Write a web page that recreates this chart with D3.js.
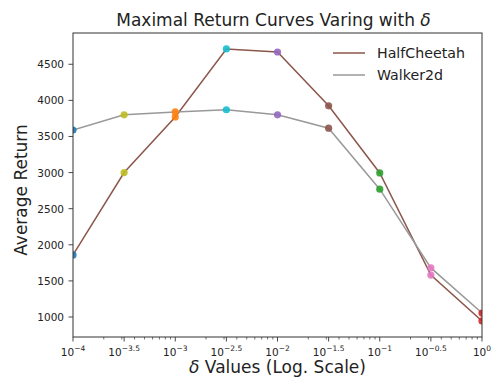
<!DOCTYPE html>
<html><head><meta charset="utf-8">
<script src="https://cdn.jsdelivr.net/npm/d3@7"></script>
<style>body{margin:0;background:#fff}svg{display:block;font-family:"DejaVu Sans",sans-serif}</style>
</head><body>
<svg id="c" width="493" height="379"></svg>
<script>
const exponents = [-4, -3.5, -3, -2.5, -2, -1.5, -1, -0.5, 0];
const tickLabels = ["−4", "−3.5", "−3", "−2.5", "−2", "−1.5", "−1", "−0.5", "0"];
const halfCheetah = [1860, 3000, 3770, 4712, 4670, 3925, 2995, 1580, 945];
const walker2d = [3590, 3800, 3840, 3870, 3800, 3615, 2770, 1680, 1055];
const yTicks = [1000, 1500, 2000, 2500, 3000, 3500, 4000, 4500];
const pointColors = ["#1f77b4", "#bcbd22", "#ff7f0e", "#17becf", "#9467bd", "#8c564b", "#2ca02c", "#e377c2", "#d62728"];
const seriesNames = ["HalfCheetah", "Walker2d"];
const seriesColors = ["#8c564b", "#999999"];

const svg = d3.select("#c");
const m = {l: 73, r: 482, t: 33, b: 337};
const x = d3.scaleLog().domain([1e-4, 1]).range([m.l, m.r]);
const y = d3.scaleLinear().domain([723, 4933]).range([m.b, m.t]);
const dark = "#333";

svg.append("defs").append("clipPath").attr("id", "clip")
  .append("rect").attr("x", m.l).attr("y", m.t).attr("width", m.r - m.l).attr("height", m.b - m.t);

// axes
const xa = svg.append("g").attr("transform", `translate(0,${m.b})`);
const minors = [];
for (let k = -4; k < 0; k++) for (let j = 2; j <= 9; j++) minors.push(j * Math.pow(10, k));
xa.selectAll("line.minor").data(minors).join("line")
  .attr("x1", d => x(d)).attr("x2", d => x(d)).attr("y1", 0).attr("y2", 2.5)
  .attr("stroke", dark).attr("stroke-width", 0.7);
xa.selectAll("line.major").data(exponents).join("line")
  .attr("x1", d => x(Math.pow(10, d))).attr("x2", d => x(Math.pow(10, d))).attr("y1", 0).attr("y2", 4.5)
  .attr("stroke", dark).attr("stroke-width", 0.9);
const tl = xa.selectAll("text").data(exponents).join("text")
  .attr("x", d => x(Math.pow(10, d))).attr("y", 19).attr("text-anchor", "middle")
  .attr("font-size", 10.5).attr("fill", "#222");
tl.append("tspan").text("10");
tl.append("tspan").attr("dy", -5).attr("font-size", 7.5).text((d, i) => tickLabels[i]);

const ya = svg.append("g");
ya.selectAll("line").data(yTicks).join("line")
  .attr("x1", m.l - 4.5).attr("x2", m.l).attr("y1", d => y(d)).attr("y2", d => y(d))
  .attr("stroke", dark).attr("stroke-width", 0.9);
ya.selectAll("text").data(yTicks).join("text")
  .attr("x", m.l - 9).attr("y", d => y(d) + 4).attr("text-anchor", "end")
  .attr("font-size", 10.5).attr("fill", "#222").text(d => d);

// series
const data = [halfCheetah, walker2d];
const plot = svg.append("g").attr("clip-path", "url(#clip)");
const line = d3.line().x((d, i) => x(Math.pow(10, exponents[i]))).y(d => y(d));
data.forEach((s, k) => {
  plot.append("path").datum(s).attr("d", line).attr("fill", "none")
    .attr("stroke", seriesColors[k]).attr("stroke-width", 1.5);
});
data.forEach(s => {
  plot.selectAll(null).data(s).join("circle")
    .attr("cx", (d, i) => x(Math.pow(10, exponents[i]))).attr("cy", d => y(d))
    .attr("r", 3.6).attr("fill", (d, i) => pointColors[i]).attr("opacity", 0.9);
});

// frame
svg.append("rect").attr("x", m.l).attr("y", m.t).attr("width", m.r - m.l).attr("height", m.b - m.t)
  .attr("fill", "none").attr("stroke", dark).attr("stroke-width", 1);

// legend
seriesNames.forEach((n, i) => {
  const ly = 53 + i * 22;
  svg.append("line").attr("x1", 333).attr("x2", 365).attr("y1", ly).attr("y2", ly)
    .attr("stroke", seriesColors[i]).attr("stroke-width", 1.5);
  svg.append("text").attr("x", 377).attr("y", ly + 5).attr("font-size", 14.2).attr("fill", "#222").text(n);
});

// titles
const t = svg.append("text").attr("x", (m.l + m.r) / 2 - 4).attr("y", 26).attr("text-anchor", "middle")
  .attr("font-size", 17).attr("fill", "#222");
t.append("tspan").text("Maximal Return Curves Varing with ");
t.append("tspan").attr("font-style", "italic").text("δ");

const xl = svg.append("text").attr("x", (m.l + m.r) / 2).attr("y", 373).attr("text-anchor", "middle")
  .attr("font-size", 17).attr("fill", "#222");
xl.append("tspan").attr("font-style", "italic").text("δ");
xl.append("tspan").text(" Values (Log. Scale)");

svg.append("text").attr("transform", `translate(27,190) rotate(-90)`)
  .attr("text-anchor", "middle").attr("font-size", 17).attr("fill", "#222").text("Average Return");
</script>
</body></html>
